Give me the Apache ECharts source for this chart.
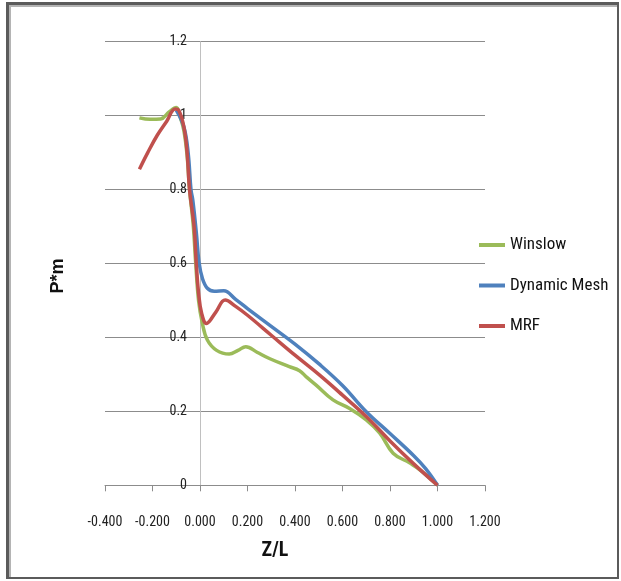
<!DOCTYPE html>
<html>
<head>
<meta charset="utf-8">
<script src="https://cdn.jsdelivr.net/npm/echarts@6/dist/echarts.min.js"></script>
<style>
  html, body { margin: 0; padding: 0; background: #fff; }
  #chart { width: 621px; height: 581px; }
</style>
</head>
<body>
<div id="chart"></div>
<script>
// Pressure coefficient profiles along Z/L for three mesh-motion approaches
const seriesNames = ['Winslow', 'Dynamic Mesh', 'MRF'];
const seriesColors = ['#9BBB59', '#4F81BD', '#C0504D'];

const winslow = [
  [-0.255, 0.994], [-0.21, 0.990], [-0.166, 0.991], [-0.13, 1.010], [-0.10, 1.022],
  [-0.085, 1.000], [-0.068, 0.960], [-0.054, 0.890], [-0.044, 0.800], [-0.028, 0.700],
  [-0.018, 0.600], [-0.006, 0.500], [0.010, 0.438], [0.031, 0.393], [0.070, 0.365],
  [0.123, 0.355], [0.160, 0.365], [0.193, 0.375], [0.240, 0.360], [0.292, 0.343],
  [0.376, 0.321], [0.419, 0.310], [0.450, 0.292], [0.489, 0.271], [0.560, 0.231],
  [0.630, 0.208], [0.700, 0.177], [0.757, 0.141], [0.813, 0.087], [0.884, 0.060],
  [0.930, 0.040], [1.000, 0.000]
];

const dynamicMesh = [
  [-0.10, 1.015], [-0.068, 0.970], [-0.050, 0.900], [-0.038, 0.800], [-0.030, 0.770],
  [-0.015, 0.680], [-0.004, 0.603], [0.010, 0.560], [0.031, 0.533], [0.060, 0.525],
  [0.100, 0.526], [0.150, 0.503], [0.200, 0.478], [0.300, 0.430], [0.400, 0.382],
  [0.500, 0.329], [0.600, 0.270], [0.700, 0.199], [0.800, 0.140], [0.900, 0.080],
  [0.950, 0.045], [1.000, 0.000]
];

const mrf = [
  [-0.255, 0.855], [-0.22, 0.900], [-0.18, 0.947], [-0.14, 0.985], [-0.105, 1.018],
  [-0.090, 1.015], [-0.068, 0.970], [-0.054, 0.898], [-0.044, 0.800], [-0.025, 0.700],
  [-0.016, 0.603], [-0.006, 0.520], [0.007, 0.465], [0.027, 0.438], [0.066, 0.468],
  [0.106, 0.501], [0.150, 0.484], [0.200, 0.460], [0.300, 0.406], [0.400, 0.352],
  [0.500, 0.300], [0.600, 0.244], [0.700, 0.186], [0.800, 0.120], [0.900, 0.058],
  [1.000, 0.000]
];

const seriesData = [winslow, dynamicMesh, mrf];

const xTicks = { min: -0.4, max: 1.2, step: 0.2 };
const yTicks = { min: 0, max: 1.2, step: 0.2 };

const narrow = "'Liberation Sans Narrow', 'Arial Narrow', 'Roboto Condensed', sans-serif";

// plot area in pixels
const plot = { left: 105, right: 485, top: 41.7, bottom: 485.3 };
// the vertical axis crosses the horizontal one at Z/L = 0
const yAxisShift = (0 - xTicks.min) / (xTicks.max - xTicks.min) * (plot.right - plot.left);

const chart = echarts.init(document.getElementById('chart'), null, { renderer: 'canvas' });

chart.setOption({
  animation: false,
  backgroundColor: '#ffffff',
  graphic: [
    // picture frame
    { type: 'rect', z: -10, shape: { x: 6, y: 2, width: 613, height: 577 }, style: { fill: '#5b5b5b' } },
    { type: 'rect', z: -9, shape: { x: 9, y: 5, width: 608, height: 572 }, style: { fill: '#b4b4b4' } },
    { type: 'rect', z: -8, shape: { x: 11, y: 7, width: 606, height: 570 }, style: { fill: '#ffffff' } },
    // axis titles
    {
      type: 'text', x: 275, y: 551, z: 10,
      style: { text: 'Z/L', font: "bold 20px " + narrow, fill: '#111', textAlign: 'center', textVerticalAlign: 'middle' }
    },
    {
      type: 'text', x: 58, y: 276, rotation: Math.PI / 2, z: 10,
      style: { text: 'P*m', font: "bold 18px 'Liberation Sans', Arial, sans-serif", fill: '#111', textAlign: 'center', textVerticalAlign: 'middle' }
    }
  ],
  grid: {
    left: plot.left,
    right: 621 - plot.right,
    top: plot.top,
    bottom: 581 - plot.bottom,
    containLabel: false
  },
  legend: {
    orient: 'vertical',
    left: 479,
    top: 235,
    padding: 0,
    itemWidth: 26,
    itemHeight: 4,
    itemGap: 20.5,
    icon: 'rect',
    data: seriesNames,
    textStyle: { fontFamily: narrow, fontSize: 17, color: '#111', lineHeight: 20 }
  },
  xAxis: {
    type: 'value',
    min: xTicks.min,
    max: xTicks.max,
    interval: xTicks.step,
    axisLine: { show: true, onZero: false, lineStyle: { color: '#8c8c8c', width: 1 } },
    axisTick: { show: true, inside: false, length: 6, lineStyle: { color: '#8c8c8c' } },
    splitLine: { show: false },
    axisLabel: {
      margin: 30,
      fontFamily: narrow,
      fontSize: 14,
      color: '#222',
      formatter: v => v.toFixed(3)
    }
  },
  yAxis: {
    type: 'value',
    min: yTicks.min,
    max: yTicks.max,
    interval: yTicks.step,
    position: 'left',
    offset: -yAxisShift,
    axisLine: { show: true, onZero: false, lineStyle: { color: '#c0c0c0', width: 1 } },
    axisTick: { show: false },
    splitLine: { show: true, lineStyle: { color: '#8c8c8c', width: 1 } },
    axisLabel: {
      margin: 13,
      fontFamily: narrow,
      fontSize: 14,
      color: '#222',
      formatter: v => String(Math.round(v * 10) / 10)
    }
  },
  series: seriesNames.map((name, i) => ({
    name,
    type: 'line',
    data: seriesData[i],
    smooth: 0.4,
    showSymbol: false,
    symbol: 'none',
    color: seriesColors[i],
    lineStyle: { width: 3.5, color: seriesColors[i] },
    z: 3 + i
  }))
});
</script>
</body>
</html>
